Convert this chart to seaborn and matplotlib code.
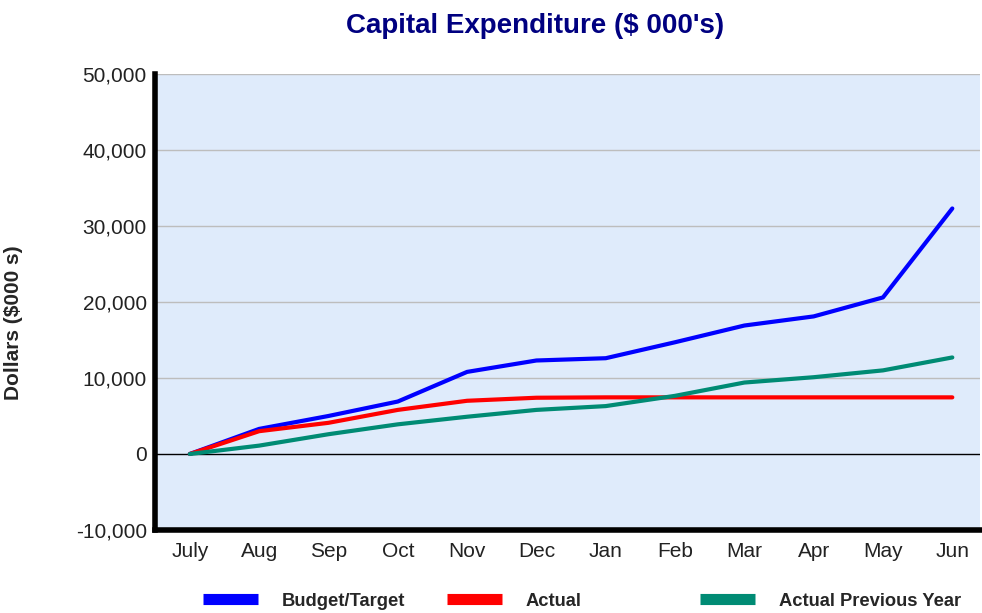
import pandas as pd
import matplotlib
matplotlib.use("Agg")
import matplotlib.pyplot as plt
import seaborn as sns
from matplotlib.lines import Line2D
from matplotlib.ticker import FuncFormatter


months = ["July", "Aug", "Sep", "Oct", "Nov", "Dec",
          "Jan", "Feb", "Mar", "Apr", "May", "Jun"]
budget = [0, 3300, 5000, 6900, 10800, 12300, 12600, 14700, 16900, 18100, 20600, 32300]
actual = [0, 3000, 4100, 5800, 7000, 7400, 7450, 7450, 7450, 7450, 7450, 7450]
prev_year = [0, 1100, 2600, 3900, 4900, 5800, 6300, 7650, 9400, 10100, 11000, 12700]

series_names = ["Budget/Target", "Actual", "Actual Previous Year"]
colors = ["#0000FF", "#FF0000", "#008B74"]

df = pd.DataFrame({
    "month": months * 3,
    "idx": list(range(len(months))) * 3,
    "value": budget + actual + prev_year,
    "series": [s for s in series_names for _ in months],
})

sns.set_style("white")
plt.rcParams["font.family"] = ["Liberation Sans", "DejaVu Sans"]

fig = plt.figure(figsize=(9.82, 6.13), dpi=100)
ax = fig.add_axes([0.158, 0.1354, 0.84, 0.744])
ax.set_facecolor("#DFEBFB")

for y in range(-10000, 50001, 10000):
    if y == 0:
        ax.axhline(y, color="black", lw=1.0, zorder=1)
    else:
        ax.axhline(y, color="#BDBDBD", lw=1.0, zorder=1)

sns.lineplot(data=df, x="idx", y="value", hue="series", palette=colors,
             hue_order=series_names, lw=3, legend=False, ax=ax, zorder=3)

ax.set_xlim(-0.5, 11.4)
ax.set_ylim(-10000, 50000)
ax.set_xticks(range(len(months)))
ax.set_xticklabels(months)
ax.set_yticks(range(-10000, 50001, 10000))
ax.yaxis.set_major_formatter(FuncFormatter(lambda v, p: f"{int(v):,}"))
ax.tick_params(axis="both", length=0, labelsize=15, colors="#222222")
ax.tick_params(axis="y", pad=6)
ax.tick_params(axis="x", pad=9)

for side in ["top", "right"]:
    ax.spines[side].set_visible(False)
for side in ["left", "bottom"]:
    ax.spines[side].set_color("black")
    ax.spines[side].set_linewidth(4)

ax.set_xlabel("")
ax.set_ylabel("Dollars ($000 s)", fontsize=15, fontweight="bold")
ax.yaxis.set_label_coords(-0.16, 0.455)

fig.suptitle("Capital Expenditure ($ 000's)", x=0.545, y=0.978,
             fontsize=20, fontweight="bold", color="#000080")

# legend entries laid out as three separate boxes
legend_x = [0.207, 0.455, 0.713]
for name, col, lx in zip(series_names, colors, legend_x):
    h = Line2D([0], [0], color=col, lw=8, solid_capstyle="butt")
    fig.legend([h], [name], loc="center left", bbox_to_anchor=(lx, 0.019),
               frameon=False, handlelength=3.0, handletextpad=1.3,
               prop={"weight": "bold", "size": 13.2}, borderaxespad=0,
               borderpad=0)

fig.savefig("out.png", dpi=100)
